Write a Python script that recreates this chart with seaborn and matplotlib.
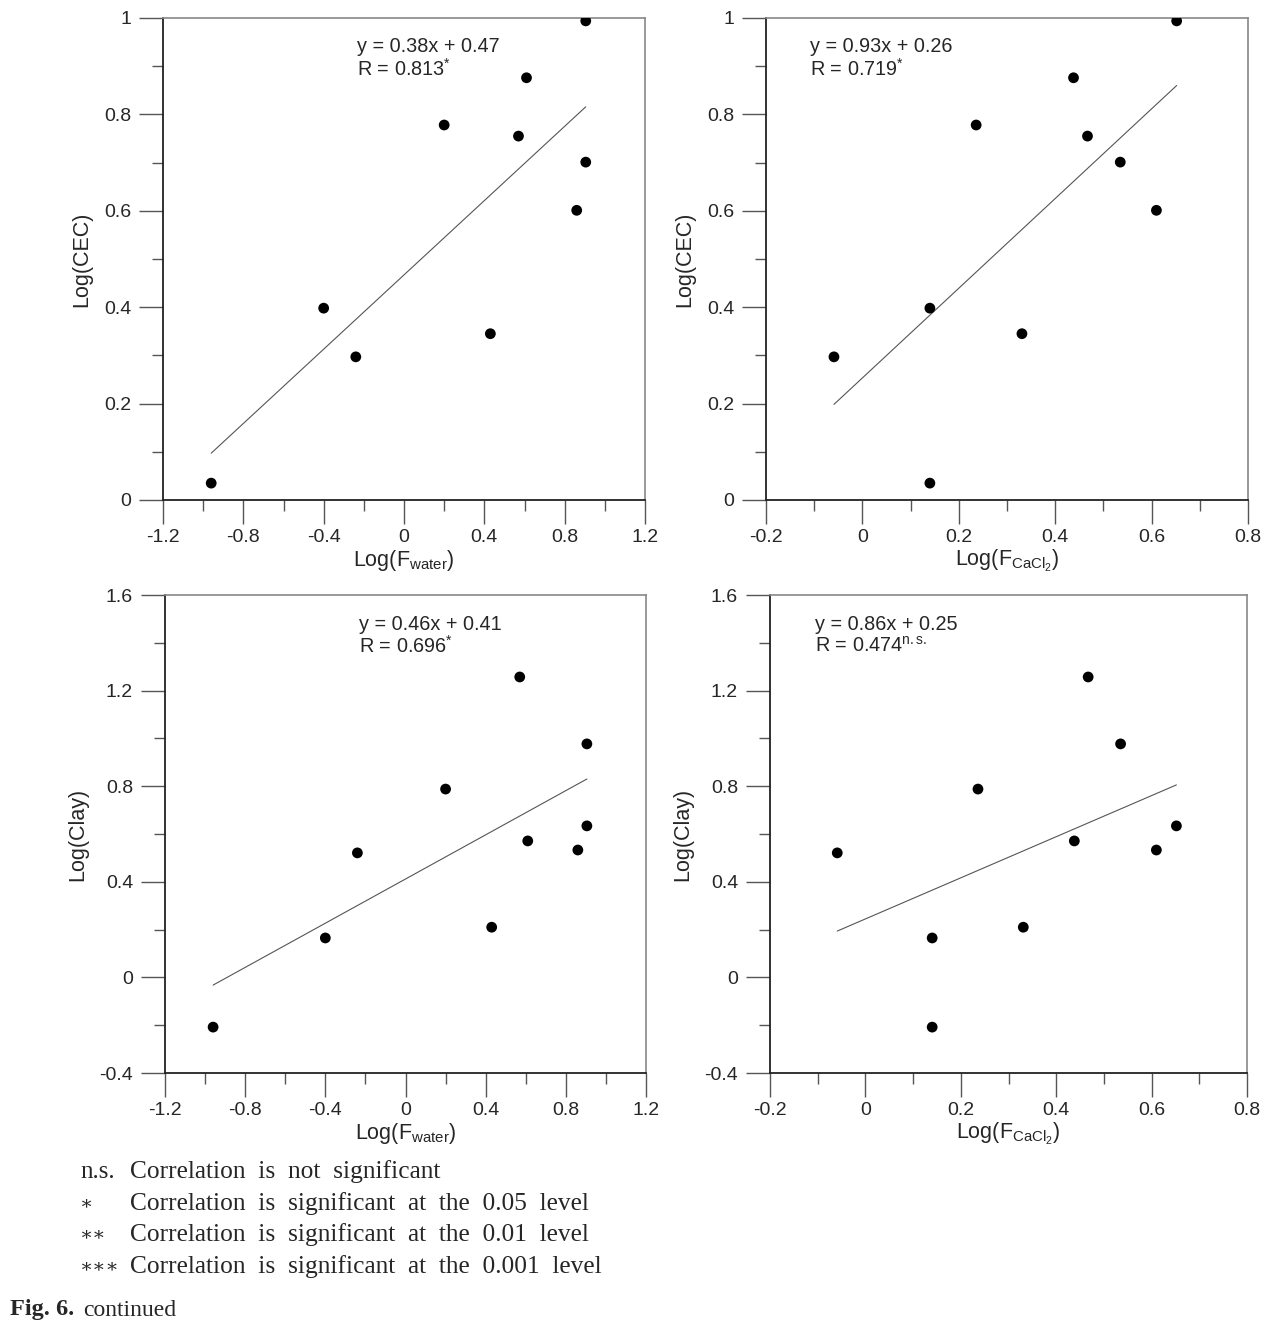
import numpy as np
import pandas as pd
import matplotlib
matplotlib.use("Agg")
import matplotlib.pyplot as plt
import seaborn as sns
from matplotlib.ticker import MultipleLocator, FuncFormatter

sns.set_theme(style="ticks")
plt.rcParams['font.family'] = ['Liberation Sans', 'DejaVu Sans']
plt.rcParams['mathtext.fontset'] = 'custom'
plt.rcParams['mathtext.rm'] = 'Liberation Sans'
plt.rcParams['mathtext.it'] = 'Liberation Sans:italic'
plt.rcParams['mathtext.bf'] = 'Liberation Sans:bold'

# Data (10 samples)
log_f_water = [-0.96, -0.40, -0.24, 0.20, 0.43, 0.57, 0.61, 0.86, 0.905, 0.905]
log_f_cacl2 = [0.140, 0.140, -0.059, 0.236, 0.331, 0.467, 0.438, 0.610, 0.535, 0.652]
log_cec = [0.035, 0.398, 0.297, 0.778, 0.345, 0.755, 0.876, 0.601, 0.701, 0.994]
log_clay = [-0.208, 0.165, 0.521, 0.788, 0.210, 1.257, 0.571, 0.533, 0.977, 0.634]

df = pd.DataFrame({"fw": log_f_water, "fc": log_f_cacl2, "cec": log_cec, "clay": log_clay})

eq_texts = ["y = 0.38x + 0.47", "y = 0.93x + 0.26", "y = 0.46x + 0.41", "y = 0.86x + 0.25"]
r_texts = [r"R = 0.813$^{*}$", r"R = 0.719$^{*}$", r"R = 0.696$^{*}$", r"R = 0.474$^{\mathrm{n.s.}}$"]

xlab_w = r"Log(F$_{\mathrm{water}}$)"
xlab_c = r"Log(F$_{\mathrm{CaCl_2}}$)"

fig = plt.figure(figsize=(12.8, 13.28), dpi=100)
W, H = 1280, 1328
def ax_at(l, t, r, b):
    return fig.add_axes([l / W, 1 - b / H, (r - l) / W, (b - t) / H])

axes = [ax_at(163, 18, 645, 500), ax_at(766, 18, 1248, 500),
        ax_at(165, 595, 646, 1073), ax_at(770, 595, 1247, 1073)]
specs = [("fw", "cec", (-1.2, 1.2), 0.4, (0, 1), 0.2, xlab_w, "Log(CEC)", 357),
         ("fc", "cec", (-0.2, 0.8), 0.2, (0, 1), 0.2, xlab_c, "Log(CEC)", 810),
         ("fw", "clay", (-1.2, 1.2), 0.4, (-0.4, 1.6), 0.4, xlab_w, "Log(Clay)", 359),
         ("fc", "clay", (-0.2, 0.8), 0.2, (-0.4, 1.6), 0.4, xlab_c, "Log(Clay)", 815)]

fmt = FuncFormatter(lambda v, p: f"{v:g}" if abs(v) > 1e-9 else "0")

for i, (ax, (xc, yc, xl, xs, yl, ys, xlab, ylab, tx)) in enumerate(zip(axes, specs)):
    sns.regplot(data=df, x=xc, y=yc, ax=ax, ci=None, truncate=True,
                scatter_kws=dict(s=60, color="black", edgecolor="none", zorder=3, alpha=1),
                line_kws=dict(color="#555555", lw=0.8))
    ax.set_xlim(*xl)
    ax.set_ylim(*yl)
    ax.xaxis.set_major_locator(MultipleLocator(xs))
    ax.xaxis.set_minor_locator(MultipleLocator(xs / 2))
    ax.yaxis.set_major_locator(MultipleLocator(ys))
    ax.yaxis.set_minor_locator(MultipleLocator(ys / 2))
    ax.xaxis.set_major_formatter(fmt)
    ax.yaxis.set_major_formatter(fmt)
    ax.tick_params(which="major", direction="out", length=17, width=1, color="#555555",
                   labelsize=14)
    ax.tick_params(axis="x", which="major", pad=4)
    ax.tick_params(axis="y", which="major", pad=6)
    ax.tick_params(which="minor", direction="out", length=8, width=1, color="#555555")
    for s in ["left", "bottom"]:
        ax.spines[s].set_color("#222222")
        ax.spines[s].set_linewidth(1.3)
    for s in ["top", "right"]:
        ax.spines[s].set_color("#888888")
        ax.spines[s].set_linewidth(1.2)
    ax.set_xlabel(xlab, fontsize=15.5, labelpad=1)
    ax.set_ylabel(ylab, fontsize=15.5, labelpad=8)
    top = 18 if i < 2 else 595
    fx = tx / W
    fig.text(fx, 1 - (top + 29) / H, eq_texts[i], fontsize=14.3, va="center", ha="left")
    fig.text(fx, 1 - (top + 51) / H, r_texts[i], fontsize=14.3, va="center", ha="left")

serif = ['Liberation Serif', 'DejaVu Serif']
notes = [("n.s.", "Correlation  is  not  significant"),
         ("\u2217", "Correlation  is  significant  at  the  0.05  level"),
         ("\u2217\u2217", "Correlation  is  significant  at  the  0.01  level"),
         ("\u2217\u2217\u2217", "Correlation  is  significant  at  the  0.001  level")]
for k, (a, b) in enumerate(notes):
    y = 1 - (1172 + 31.5 * k) / H
    fig.text(80 / W, y, a, fontsize=18 if k == 0 else 14, family=serif, va="center", ha="left")
    fig.text(130 / W, y, b, fontsize=18.3, family=serif, va="center", ha="left")

fig.text(10 / W, 1 - 1310 / H, "Fig. 6.", fontsize=17.5, family=serif, weight="bold", va="center", ha="left")
fig.text(83 / W, 1 - 1310 / H, "continued", fontsize=17, family=serif, va="center", ha="left")

fig.savefig("out.png", dpi=100, facecolor="white")
